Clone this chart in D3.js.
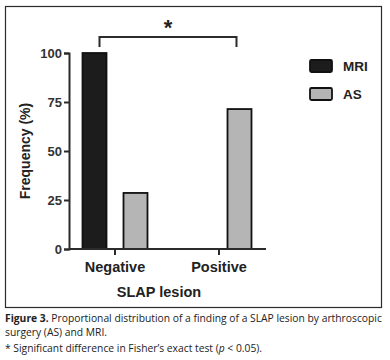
<!DOCTYPE html>
<html><head><meta charset="utf-8">
<script src="https://cdn.jsdelivr.net/npm/d3@7"></script>
<style>body{margin:0;background:#fff;} svg{display:block;}</style>
</head><body>
<script>
const categories = ["Negative", "Positive"];
const seriesNames = ["MRI", "AS"];
const mriValues = [100, 0];
const asValues = [28.6, 71.4];
const yTicks = [0, 25, 50, 75, 100];

const W = 390, H = 360;
const svg = d3.select("body").append("svg").attr("width", W).attr("height", H);
const font = "'Liberation Sans', Arial, sans-serif";
const ink = "#2b2b2b";

// frame
svg.append("rect").attr("x", 5.5).attr("y", 6.5).attr("width", 376).attr("height", 301)
  .attr("fill", "none").attr("stroke", ink).attr("stroke-width", 1.2);

const y = d3.scaleLinear().domain([0, 100]).range([249, 53]);
const x0 = d3.scaleBand().domain(categories).range([63, 271]).paddingInner(0).paddingOuter(0);
const x1 = d3.scaleBand().domain(seriesNames).range([0, x0.bandwidth()]).paddingInner(0.415).paddingOuter(0.476);
const colors = {MRI: "#1c1c1c", AS: "#b5b5b5"};

const data = categories.map((c, i) => ({cat: c, vals: [{s: "MRI", v: mriValues[i]}, {s: "AS", v: asValues[i]}]}));

const g = svg.append("g");
g.selectAll("g.cat").data(data).join("g").attr("class", "cat")
  .attr("transform", d => `translate(${x0(d.cat)},0)`)
  .selectAll("rect").data(d => d.vals.filter(e => e.v > 0)).join("rect")
  .attr("x", d => x1(d.s)).attr("width", x1.bandwidth())
  .attr("y", d => y(d.v)).attr("height", d => y(0) - y(d.v))
  .attr("fill", d => colors[d.s]).attr("stroke", "#111").attr("stroke-width", 1.8);

// y axis
const yAxis = d3.axisLeft(y).tickValues(yTicks).tickSize(5).tickPadding(2);
const ya = svg.append("g").attr("transform", "translate(69,0)").call(yAxis);
ya.select(".domain").attr("stroke", ink).attr("stroke-width", 2);
ya.selectAll(".tick line").attr("stroke", ink).attr("stroke-width", 2);
ya.selectAll(".tick text").attr("font-family", font).attr("font-weight", "bold")
  .attr("font-size", 13).attr("fill", "#333");

// x axis
const xAxis = d3.axisBottom(x0).tickSize(6).tickPadding(7);
const xa = svg.append("g").attr("transform", "translate(0,249)").call(xAxis);
xa.select(".domain").attr("stroke", ink).attr("stroke-width", 2).attr("d", "M69,0H266");
xa.selectAll(".tick line").attr("stroke", ink).attr("stroke-width", 2);
xa.selectAll(".tick text").attr("font-family", font).attr("font-weight", "bold")
  .attr("font-size", 14.5).attr("fill", "#222");

// axis titles
svg.append("text").attr("x", 159).attr("y", 297).attr("text-anchor", "middle")
  .attr("font-family", font).attr("font-weight", "bold").attr("font-size", 14.5).attr("fill", "#222")
  .text("SLAP lesion");
svg.append("text").attr("transform", "translate(30,151) rotate(-90)").attr("text-anchor", "middle")
  .attr("font-family", font).attr("font-weight", "bold").attr("font-size", 14).attr("fill", "#222")
  .text("Frequency (%)");

// significance bracket
const bx1 = x0("Negative") + x1("MRI") + x1.bandwidth() / 2 + 5;
const bx2 = x0("Positive") + x1("AS") + x1.bandwidth() / 2 - 3;
svg.append("path").attr("d", `M${bx1},47V37H${bx2}V47`).attr("fill", "none")
  .attr("stroke", ink).attr("stroke-width", 2);
svg.append("text").attr("x", (bx1 + bx2) / 2).attr("y", 35).attr("text-anchor", "middle")
  .attr("font-family", font).attr("font-weight", "bold").attr("font-size", 22).attr("fill", "#222")
  .text("*");

// legend
const leg = svg.append("g");
seriesNames.forEach((s, i) => {
  leg.append("rect").attr("x", 310).attr("y", 60 + i * 28).attr("width", 22).attr("height", 12)
    .attr("fill", colors[s]).attr("stroke", "#111").attr("stroke-width", 1.8).attr("rx", 1.5);
  leg.append("text").attr("x", 343).attr("y", 71 + i * 28)
    .attr("font-family", font).attr("font-weight", "bold").attr("font-size", 13.5).attr("fill", "#222")
    .text(s);
});

// caption
const cfont = "'Open Sans', 'Noto Sans', sans-serif";
const cap = svg.append("g").attr("font-family", cfont).attr("font-size", 10.3).attr("fill", "#222");
const l1 = cap.append("text").attr("x", 5).attr("y", 322);
l1.append("tspan").attr("font-weight", "bold").text("Figure 3.");
l1.append("tspan").text(" Proportional distribution of a finding of a SLAP lesion by arthroscopic");
cap.append("text").attr("x", 5).attr("y", 336).text("surgery (AS) and MRI.");
const l3 = cap.append("text").attr("x", 5).attr("y", 352);
l3.append("tspan").text("* Significant difference in Fisher\u2019s exact test (");
l3.append("tspan").attr("font-style", "italic").text("p");
l3.append("tspan").text(" < 0.05).");
</script>
</body></html>
